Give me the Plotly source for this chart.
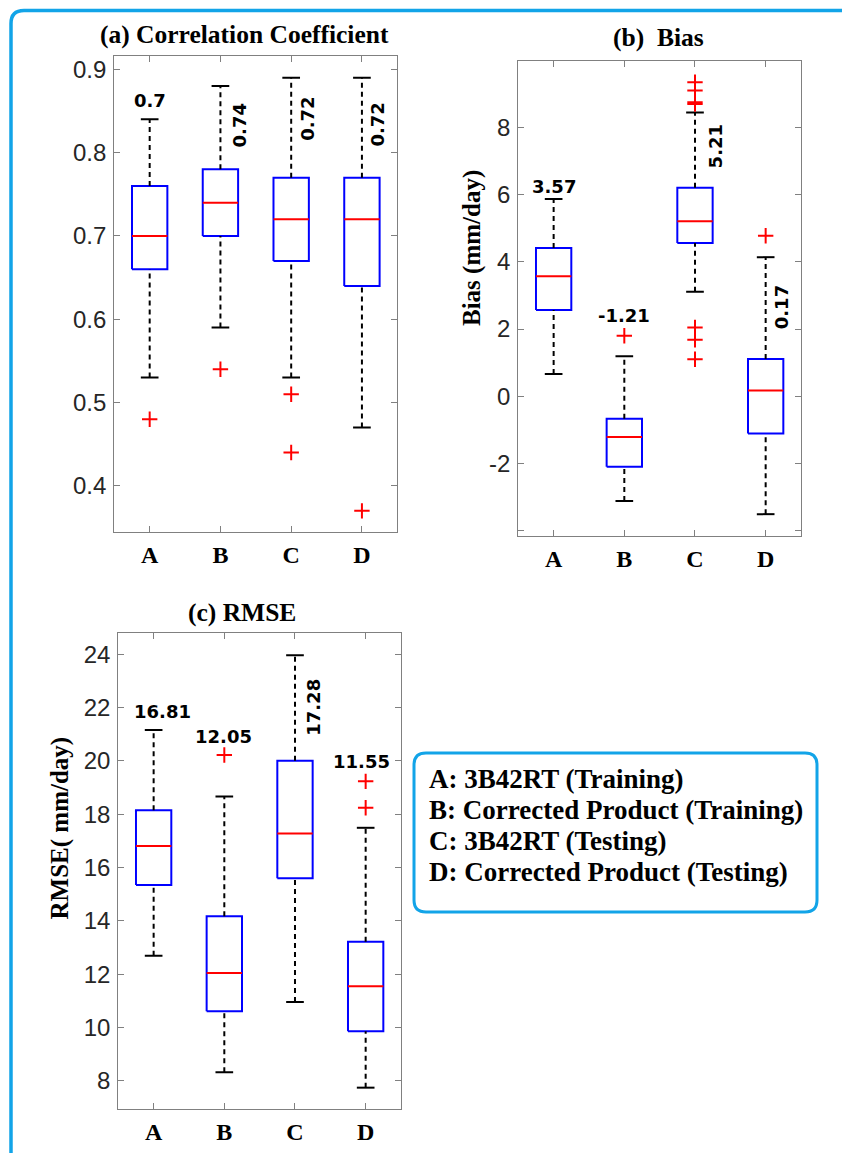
import plotly.graph_objects as go

# The page body has an 8px default margin; the figure is sized to fill the rest.
OFF = 8
W, H = 850 - OFF, 1153 - OFF

# ---------------- data ----------------
categories = ["A", "B", "C", "D"]
legend_lines = [
    "A: 3B42RT (Training)",
    "B: Corrected Product (Training)",
    "C: 3B42RT (Testing)",
    "D: Corrected Product (Testing)",
]

cc_lower = [0.53, 0.59, 0.53, 0.47]
cc_q1 = [0.66, 0.70, 0.67, 0.64]
cc_median = [0.70, 0.74, 0.72, 0.72]
cc_q3 = [0.76, 0.78, 0.77, 0.77]
cc_upper = [0.84, 0.88, 0.89, 0.89]
cc_outliers = [[0.48], [0.54], [0.51, 0.44], [0.37]]
cc_labels = ["0.7", "0.74", "0.72", "0.72"]

bias_lower = [0.66, -3.12, 3.11, -3.51]
bias_q1 = [2.57, -2.10, 4.56, -1.11]
bias_median = [3.57, -1.21, 5.21, 0.17]
bias_q3 = [4.41, -0.67, 6.21, 1.11]
bias_upper = [5.87, 1.19, 8.45, 4.14]
bias_outliers = [[], [1.80], [9.35, 9.10, 8.75, 8.70, 2.05, 1.68, 1.10], [4.78]]
bias_labels = ["3.57", "-1.21", "5.21", "0.17"]

rmse_lower = [12.69, 8.33, 10.96, 7.75]
rmse_q1 = [15.35, 10.61, 15.60, 9.86]
rmse_median = [16.81, 12.05, 17.28, 11.55]
rmse_q3 = [18.15, 14.17, 20.00, 13.22]
rmse_upper = [21.16, 18.66, 23.96, 17.49]
rmse_outliers = [[], [20.22], [], [19.23, 18.24]]
rmse_labels = ["16.81", "12.05", "17.28", "11.55"]

cc_ticks = [0.4, 0.5, 0.6, 0.7, 0.8, 0.9]
bias_ticks = [-4, -2, 0, 2, 4, 6, 8]
bias_ticktext = ["", "-2", "0", "2", "4", "6", "8"]
rmse_ticks = [8, 10, 12, 14, 16, 18, 20, 22, 24]

# ---------------- layout config ----------------
def px_x(p):
    return (p - OFF) / W

def px_y(p):
    return 1 - (p - OFF) / H

BLUE_FRAME = "#12A4E8"
AXIS_GRAY = "#808080"
SERIF = "Liberation Serif"

panels = [
    dict(ax="", lower=cc_lower, q1=cc_q1, med=cc_median, q3=cc_q3, up=cc_upper,
         out=cc_outliers, labels=cc_labels,
         xpx=(114.3, 397.3), ypx=(56, 531.7), yrange=(0.345, 0.916),
         tickvals=cc_ticks, ticktext=["%.1f" % t for t in cc_ticks],
         title="(a) Correlation Coefficient", title_pos=(244.7, 35),
         ytitle=None, ytitle_pos=None,
         lab=[(0, -19, 0), (20, 39, -90), (16, 41, -90), (16, 47, -90)]),
    dict(ax="2", lower=bias_lower, q1=bias_q1, med=bias_median, q3=bias_q3, up=bias_upper,
         out=bias_outliers, labels=bias_labels,
         xpx=(518.3, 801), ypx=(61, 536), yrange=(-4.16, 9.98),
         tickvals=bias_ticks, ticktext=bias_ticktext,
         title="(b)  Bias", title_pos=(658, 37.7),
         ytitle="Bias (mm/day)", ytitle_pos=(472, 248),
         lab=[(0, -13, 0), (0, -41, 0), (20, 34, -90), (15.4, 50, -90)]),
    dict(ax="3", lower=rmse_lower, q1=rmse_q1, med=rmse_median, q3=rmse_q3, up=rmse_upper,
         out=rmse_outliers, labels=rmse_labels,
         xpx=(118.3, 401), ypx=(633.3, 1109), yrange=(6.95, 24.78),
         tickvals=rmse_ticks, ticktext=[str(t) for t in rmse_ticks],
         title="(c) RMSE", title_pos=(242.3, 612.3),
         ytitle="RMSE( mm/day)", ytitle_pos=(59, 828.5),
         lab=[(9, -18, 0), (-1, -60, 0), (18.6, 52, -90), (-3.7, -66, 0)]),
]

BOX_HALF = 0.25
CAP_HALF = 0.125

fig = go.Figure()
annotations = []
shapes = []
layout_axes = {}

for p in panels:
    xa = "x" + p["ax"]
    ya = "y" + p["ax"]
    for i in range(len(categories)):
        c = i + 1
        # box
        fig.add_trace(go.Scatter(
            x=[c - BOX_HALF, c + BOX_HALF, c + BOX_HALF, c - BOX_HALF, c - BOX_HALF],
            y=[p["q1"][i], p["q1"][i], p["q3"][i], p["q3"][i], p["q1"][i]],
            mode="lines", line=dict(color="#0000FF", width=2),
            xaxis=xa, yaxis=ya, showlegend=False, hoverinfo="skip"))
        # median
        fig.add_trace(go.Scatter(
            x=[c - BOX_HALF, c + BOX_HALF], y=[p["med"][i], p["med"][i]],
            mode="lines", line=dict(color="#FF0000", width=2),
            xaxis=xa, yaxis=ya, showlegend=False, hoverinfo="skip"))
        # whiskers (dashed)
        for a, b in ((p["q3"][i], p["up"][i]), (p["lower"][i], p["q1"][i])):
            fig.add_trace(go.Scatter(
                x=[c, c], y=[a, b], mode="lines",
                line=dict(color="black", width=2, dash="5px,4px"),
                xaxis=xa, yaxis=ya, showlegend=False, hoverinfo="skip"))
        # caps
        for v in (p["up"][i], p["lower"][i]):
            fig.add_trace(go.Scatter(
                x=[c - CAP_HALF, c + CAP_HALF], y=[v, v], mode="lines",
                line=dict(color="black", width=2),
                xaxis=xa, yaxis=ya, showlegend=False, hoverinfo="skip"))
        # outliers
        if p["out"][i]:
            fig.add_trace(go.Scatter(
                x=[c] * len(p["out"][i]), y=p["out"][i], mode="markers",
                marker=dict(symbol="cross-thin", size=11,
                            line=dict(color="#FF0000", width=2), color="#FF0000"),
                xaxis=xa, yaxis=ya, showlegend=False, hoverinfo="skip"))
        # median label
        dx, dy, ang = p["lab"][i]
        annotations.append(dict(
            x=c, y=p["up"][i], xref=xa, yref=ya, text=p["labels"][i],
            showarrow=False, xanchor="center", yanchor="middle",
            xshift=dx, yshift=-dy, textangle=ang,
            font=dict(family="DejaVu Sans", size=18, color="black", weight="bold")))

    axis_common = dict(showline=True, linecolor=AXIS_GRAY, linewidth=1.3, mirror="ticks",
                       ticks="inside", ticklen=6, tickcolor=AXIS_GRAY, tickwidth=1.3,
                       showgrid=False, zeroline=False, fixedrange=True)
    key = p["ax"]
    layout_axes["xaxis" + key] = dict(
        axis_common, domain=[px_x(p["xpx"][0]), px_x(p["xpx"][1])],
        range=[0.5, 4.5], tickvals=[1, 2, 3, 4], ticktext=categories,
        anchor=ya, ticklabelstandoff=1,
        tickfont=dict(family=SERIF, size=24, color="black", weight="bold"))
    layout_axes["yaxis" + key] = dict(
        axis_common, domain=[px_y(p["ypx"][1]), px_y(p["ypx"][0])],
        range=list(p["yrange"]), tickvals=p["tickvals"], ticktext=p["ticktext"],
        anchor=xa, ticklabelstandoff=2,
        tickfont=dict(family="Liberation Sans", size=24, color="#262626"))

    # titles
    tx, ty = p["title_pos"]
    annotations.append(dict(
        x=px_x(tx), y=px_y(ty), xref="paper", yref="paper", text=p["title"],
        showarrow=False, xanchor="center", yanchor="middle",
        font=dict(family=SERIF, size=25.5, color="black", weight="bold")))
    if p["ytitle"]:
        yx, yy = p["ytitle_pos"]
        annotations.append(dict(
            x=px_x(yx), y=px_y(yy), xref="paper", yref="paper", text=p["ytitle"],
            showarrow=False, xanchor="center", yanchor="middle", textangle=-90,
            font=dict(family=SERIF, size=25, color="black", weight="bold")))

# legend text box
LX0, LX1, LY0, LY1, LR = 414, 817, 753, 912, 12

def rounded_rect(x0, y0, x1, y1, r):
    pts = [
        ("M", x0 + r, y0), ("L", x1 - r, y0), ("Q", x1, y0, x1, y0 + r),
        ("L", x1, y1 - r), ("Q", x1, y1, x1 - r, y1), ("L", x0 + r, y1),
        ("Q", x0, y1, x0, y1 - r), ("L", x0, y0 + r), ("Q", x0, y0, x0 + r, y0),
    ]
    s = ""
    for seg in pts:
        cmd = seg[0]
        coords = seg[1:]
        parts = []
        for k in range(0, len(coords), 2):
            parts.append("%.5f,%.5f" % (px_x(coords[k]), px_y(coords[k + 1])))
        s += cmd + " " + " ".join(parts) + " "
    return s + "Z"

shapes.append(dict(type="path", xref="paper", yref="paper",
                   path=rounded_rect(LX0, LY0, LX1, LY1, LR),
                   line=dict(color=BLUE_FRAME, width=3), fillcolor="rgba(0,0,0,0)"))

for k, line in enumerate(legend_lines):
    annotations.append(dict(
        x=px_x(427), y=px_y(778.5 + 31 * k), xref="paper", yref="paper", text=line,
        showarrow=False, xanchor="left", yanchor="middle",
        font=dict(family=SERIF, size=27, color="black", weight="bold")))

# outer frame (cropped rounded rectangle)
FX, FY, FR = 11, 10.5, 13
frame_path = "M %.5f,%.5f L %.5f,%.5f Q %.5f,%.5f %.5f,%.5f L %.5f,%.5f" % (
    px_x(FX), px_y(1153 + 5), px_x(FX), px_y(FY + FR),
    px_x(FX), px_y(FY), px_x(FX + FR), px_y(FY),
    px_x(850 + 5), px_y(FY))
shapes.append(dict(type="path", xref="paper", yref="paper", path=frame_path,
                   line=dict(color=BLUE_FRAME, width=3.5)))

fig.update_layout(
    width=W, height=H, margin=dict(l=0, r=0, t=0, b=0),
    paper_bgcolor="white", plot_bgcolor="white",
    showlegend=False, annotations=annotations, shapes=shapes,
    **layout_axes)

fig.write_html("out.html")
